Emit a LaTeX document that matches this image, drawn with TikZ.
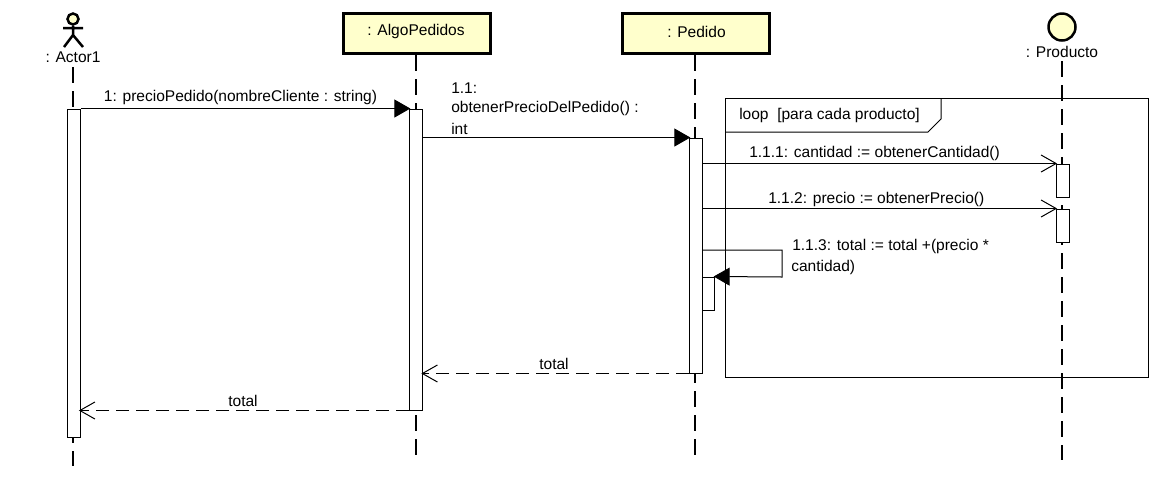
\documentclass[tikz,border=0pt]{standalone}
\usepackage{fontspec}
\setmainfont{Liberation Sans}
\usetikzlibrary{arrows.meta,calc}
\newlength{\pxu}\setlength{\pxu}{0.75pt}
\tikzset{
  x=0.75pt,y=-0.75pt,
  every node/.style={font=\fontsize{11.65pt}{15pt}\selectfont,text=black,inner sep=0pt},
  txt/.style={anchor=center},
  objbox/.style={draw=black,line width=3\pxu,fill=boxfill,minimum width=147\pxu,minimum height=40\pxu},
  lifeline/.style={line width=1.2\pxu,dash pattern=on 16\pxu off 8\pxu},
  bar/.style={draw=black,fill=white,line width=1\pxu,minimum width=13\pxu},
  msg/.style={line width=1\pxu,shorten >=-1pt,-{Triangle[length=12pt,width=13.5pt]}},
  msgopen/.style={line width=1\pxu,shorten >=-1.2pt,-{Straight Barb[length=11.25pt,width=12.75pt]}},
  ret/.style={line width=1\pxu,shorten >=-1.2pt,dash pattern=on 13\pxu off 7\pxu,-{Straight Barb[length=11.25pt,width=12.75pt]}},
  frameline/.style={line width=1\pxu},
}
\definecolor{boxfill}{HTML}{FFFFCC}
\begin{document}
\begin{tikzpicture}
\useasboundingbox[fill=white] (0,0) rectangle (1161,480);
% objects
\node[objbox] (algo) at (416.5,33.5) {};
\node[txt] (algot) at (416,31.5) {: AlgoPedidos};
\node[objbox] (ped) at (695.5,33.5) {};
\node[txt] (pedt) at (696.5,31.5) {: Pedido};
\node[draw=black,line width=2.5\pxu,fill=boxfill,circle,minimum size=27\pxu] (prodc) at (1062,27) {};
\node[txt] (prodl) at (1062,51.5) {: Producto};
\node[draw=black,line width=2.5\pxu,fill=boxfill,circle,minimum size=11\pxu] (head) at (73,19) {};
\node[txt] (actl) at (73,57.5) {: Actor1};
\coordinate (neck) at (73,35);
\coordinate (armL) at (63,28);
\coordinate (armR) at (83,28);
\coordinate (legL) at (64,47);
\coordinate (legR) at (83,47);
\draw[line width=2.5\pxu] (head.south) -- (neck) (armL) -- (armR) (legL) -- (neck) -- (legR);
% lifeline ends
\coordinate (e1) at (73,466);
\coordinate (e2) at (416,455);
\coordinate (e3) at (695,455);
\coordinate (e4) at (1062,460);
\draw[lifeline] (actl.south -| e1) ++(0,4) -- (e1);
\draw[lifeline] (algo.south -| e2) -- (e2);
\draw[lifeline] (ped.south -| e3) -- (e3);
\draw[lifeline] (prodl.south -| e4) ++(0,3.7) -- (e4);
% activation bars
\node[bar,minimum height=328\pxu] (bA) at (73.5,273) {};
\node[bar,minimum height=301\pxu] (bB) at (416,259.5) {};
\node[bar,minimum height=235\pxu] (bC) at (696,255.5) {};
\node[bar,minimum height=33\pxu] (bD) at (1062.5,180.5) {};
\node[bar,minimum height=33\pxu] (bE) at (1062.5,225.5) {};
\node[bar,minimum height=33\pxu,minimum width=12\pxu] (bF) at (708.5,293.5) {};
% loop frame
\coordinate (fTL) at (725,98);
\coordinate (fBR) at (1148,377);
\draw[frameline] (fTL) rectangle (fBR);
\coordinate (t1) at (941,98);
\coordinate (t2) at (941,119);
\coordinate (t3) at (928,132);
\coordinate (t4) at (725,132);
\draw[frameline] (t1) -- (t2) -- (t3) -- (t4);
\node[anchor=west] (loopt) at (739,115) {loop\ \ [para cada producto]};
% messages
\draw[msg] (bA.north east) -- (bB.north west);
\node[txt] (l1) at (240.5,97) {1: precioPedido(nombreCliente : string)};
\draw[msg] (bB.east |- bC.north) -- (bC.north west);
\node[anchor=west] (l2a) at (451,88.5) {1.1:};
\node[anchor=west] (l2b) at (451,108.5) {obtenerPrecioDelPedido() :};
\node[anchor=west] (l2c) at (451,128.5) {int};
\draw[msgopen] (bC.east |- bD.north) -- (bD.north west);
\node[anchor=west] (l3) at (749,153.5) {1.1.1: cantidad := obtenerCantidad()};
\draw[msgopen] (bC.east |- bE.north) -- (bE.north west);
\node[anchor=west] (l4) at (768,199.5) {1.1.2: precio := obtenerPrecio()};
\coordinate (s1) at (782,250);
\coordinate (s2) at (782,277);
\draw[msg] (bC.east |- s1) -- (s1) -- (s2) -- (bF.north east);
\node[anchor=west] (l5a) at (792,246.5) {1.1.3: total := total +(precio *};
\node[anchor=west] (l5b) at (791,267.5) {cantidad)};
\draw[ret] (bC.south west) -- (bB.east |- bC.south);
\node[txt] (l6) at (554,364) {total};
\draw[ret] (bB.south west) -- (bA.east |- bB.south);
\node[txt] (l7) at (243,401) {total};
\end{tikzpicture}
\end{document}
